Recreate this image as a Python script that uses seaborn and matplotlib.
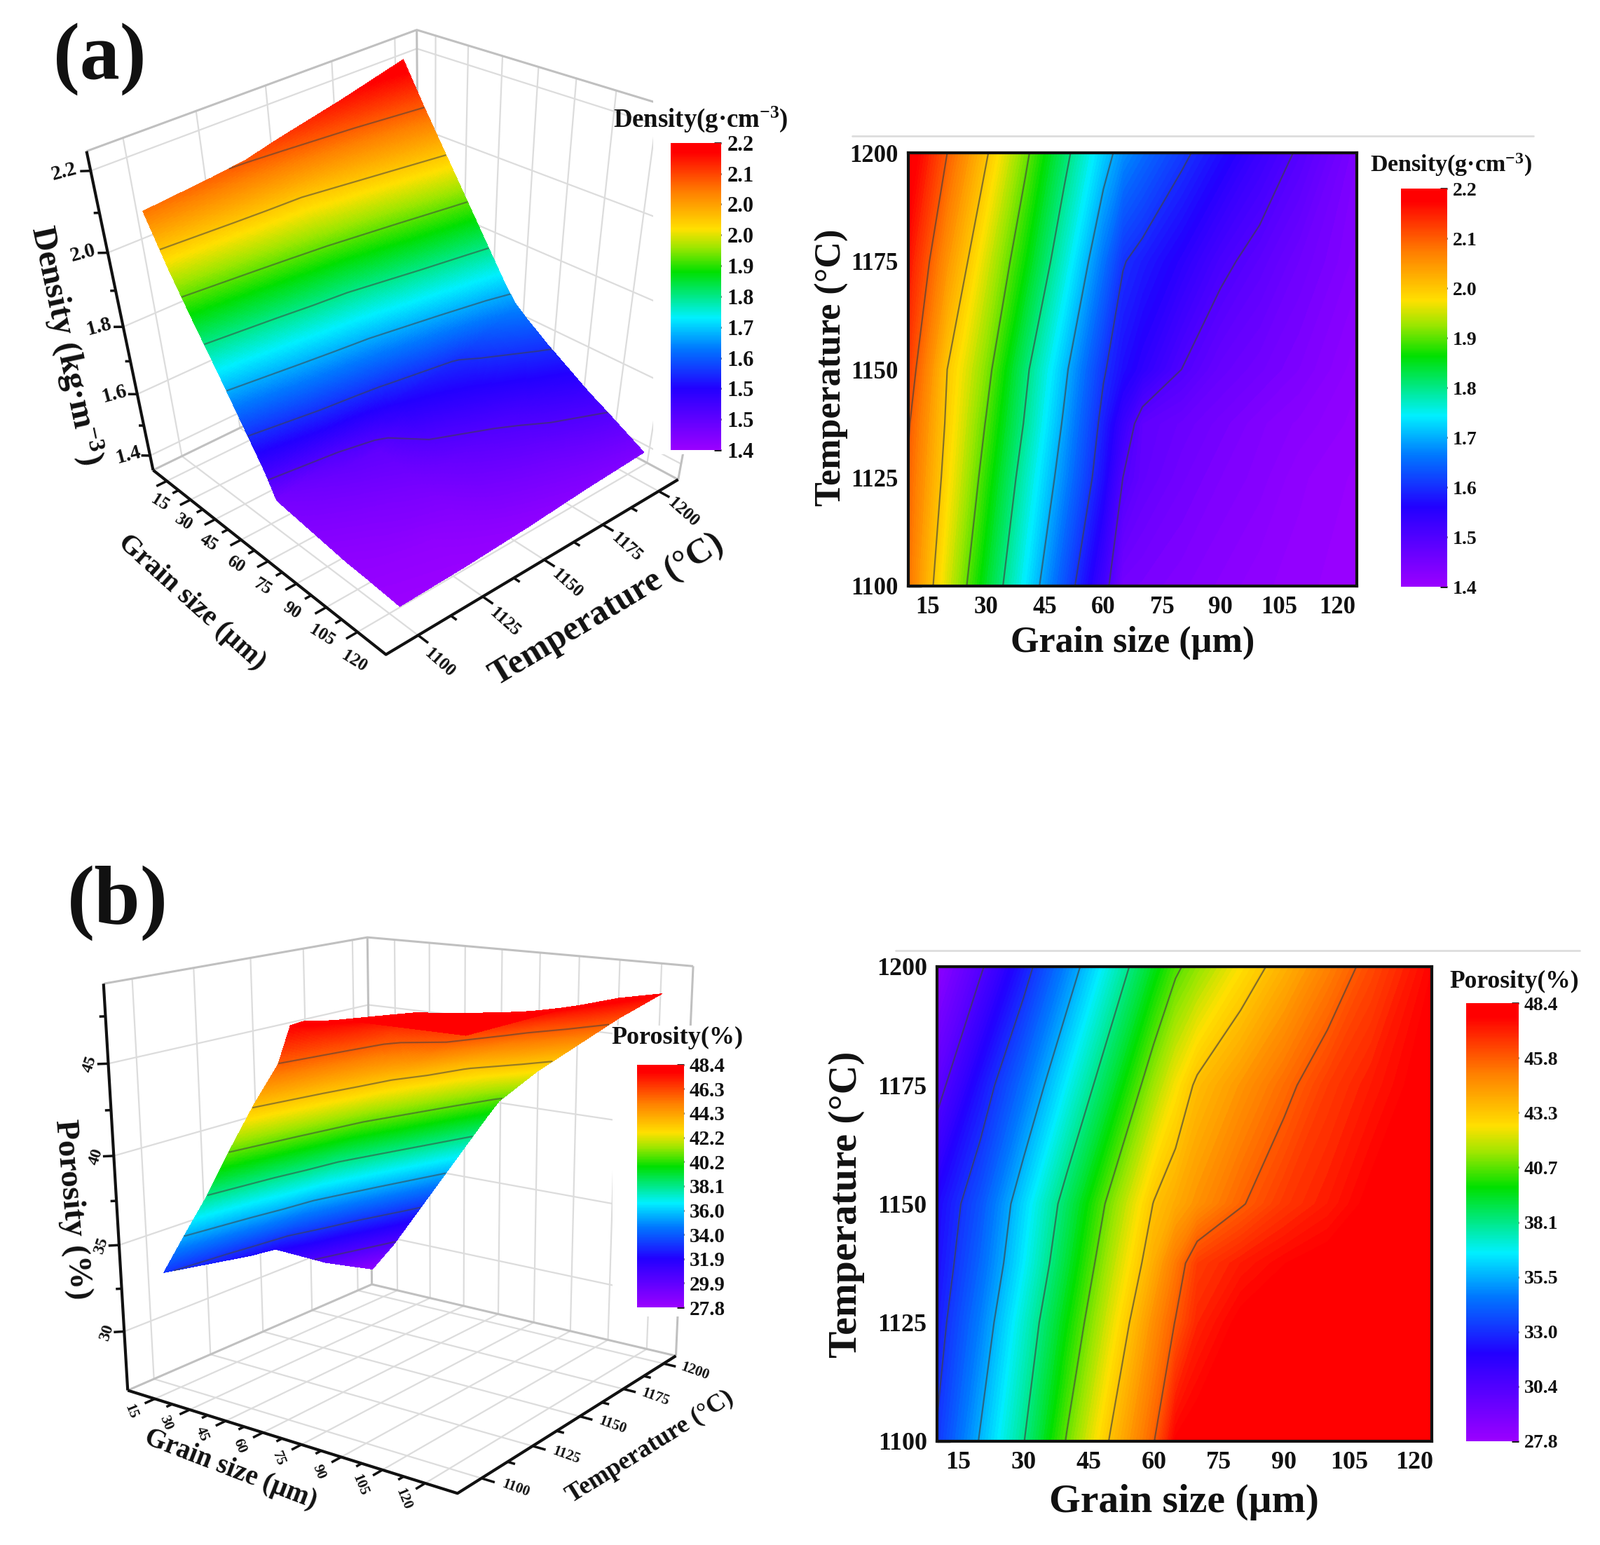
import numpy as np
import matplotlib
matplotlib.use("Agg")
import matplotlib.pyplot as plt
import seaborn as sns
from matplotlib.colors import LinearSegmentedColormap
from matplotlib.patches import Rectangle
from mpl_toolkits.mplot3d import Axes3D  # noqa: F401
from mpl_toolkits.mplot3d.art3d import Line3DCollection

# ------------------------------------------------------------------ data
grain = [10, 20, 30, 40, 50, 60, 65, 70, 80, 90, 100, 110, 125]
temperature = [1100, 1125, 1137.5, 1150, 1175, 1200]

density_1100 = [2.08, 1.955, 1.845, 1.74, 1.63, 1.52, 1.45, 1.445, 1.435, 1.425, 1.415, 1.41, 1.40]
density_1125 = [2.095, 1.983, 1.88, 1.775, 1.675, 1.57, 1.50, 1.475, 1.455, 1.44, 1.43, 1.415, 1.405]
density_1137 = [2.105, 1.993, 1.897, 1.795, 1.693, 1.586, 1.53, 1.48, 1.465, 1.45, 1.435, 1.425, 1.41]
density_1150 = [2.125, 2.00, 1.915, 1.81, 1.71, 1.605, 1.57, 1.545, 1.50, 1.47, 1.455, 1.44, 1.415]
density_1175 = [2.16, 2.05, 1.955, 1.865, 1.765, 1.66, 1.603, 1.585, 1.55, 1.51, 1.485, 1.46, 1.43]
density_1200 = [2.20, 2.10, 2.005, 1.91, 1.815, 1.72, 1.68, 1.655, 1.61, 1.57, 1.53, 1.495, 1.44]

porosity_1100 = [33.1, 35.6, 38.05, 40.8, 43.4, 45.75, 47.8, 48.1, 48.3, 48.4, 48.4, 48.4, 48.4]
porosity_1125 = [32.5, 34.7, 37.2, 39.7, 42.2, 44.7, 45.85, 47.0, 47.9, 48.2, 48.3, 48.4, 48.4]
porosity_1137 = [32.2, 34.2, 36.6, 39.1, 41.6, 43.95, 45.2, 46.5, 47.2, 47.7, 48.0, 48.2, 48.4]
porosity_1150 = [32.0, 33.8, 36.2, 38.6, 41.0, 43.35, 44.0, 44.6, 45.7, 46.6, 47.2, 47.9, 48.4]
porosity_1175 = [29.9, 32.3, 34.4, 36.7, 39.0, 41.4, 42.5, 43.5, 44.5, 45.5, 46.5, 47.2, 48.2]
porosity_1200 = [28.2, 30.2, 32.5, 34.8, 37.1, 39.4, 40.5, 41.2, 42.6, 43.8, 45.0, 46.2, 47.8]

grain_ticks = [15, 30, 45, 60, 75, 90, 105, 120]
temp_ticks = [1100, 1125, 1150, 1175, 1200]
density_levels = [1.5, 1.6, 1.7, 1.8, 1.9, 2.0, 2.1]
porosity_levels = [30.4, 33.0, 35.5, 38.1, 40.7, 43.3, 45.8]
density_z_ticks = [1.4, 1.6, 1.8, 2.0, 2.2]
porosity_z_ticks = [30, 35, 40, 45]
cb_density_left = ["2.2", "2.1", "2.0", "2.0", "1.9", "1.8", "1.7", "1.6", "1.5", "1.5", "1.4"]
cb_density_right = ["2.2", "2.1", "2.0", "1.9", "1.8", "1.7", "1.6", "1.5", "1.4"]
cb_porosity_left = ["48.4", "46.3", "44.3", "42.2", "40.2", "38.1", "36.0", "34.0", "31.9", "29.9", "27.8"]
cb_porosity_right = ["48.4", "45.8", "43.3", "40.7", "38.1", "35.5", "33.0", "30.4", "27.8"]

# ------------------------------------------------------------------ style
W, H = 2283, 2204
S = W / 1568.0
sns.set_theme(style="white")
plt.rcParams["font.family"] = ["Liberation Serif", "DejaVu Serif"]
plt.rcParams["font.weight"] = "bold"
plt.rcParams["mathtext.fontset"] = "custom"
plt.rcParams["mathtext.rm"] = "Liberation Serif:bold"
plt.rcParams["mathtext.default"] = "rm"
INK = "#111111"

cmap = LinearSegmentedColormap.from_list("origin_rainbow", [
    (0.00, "#9a00ff"), (0.20, "#2200ff"), (0.33, "#0078ff"), (0.43, "#00f0ff"),
    (0.58, "#00e000"), (0.66, "#9ee600"), (0.72, "#ffe000"), (0.84, "#ff8000"),
    (0.97, "#ff0000"), (1.00, "#ff0000")])

X = np.array(grain, float)
Y = np.array(temperature, float)
Zd = np.array([density_1100, density_1125, density_1137, density_1150, density_1175, density_1200])
Zp = np.array([porosity_1100, porosity_1125, porosity_1137, porosity_1150, porosity_1175, porosity_1200])

fig = plt.figure(figsize=(W / 100, H / 100), dpi=100, facecolor="white")


def rect(x0, y0, x1, y1):
    """Axes rectangle from positions on the 1568-wide layout."""
    return [x0 * S / W, 1 - y1 * S / H, (x1 - x0) * S / W, (y1 - y0) * S / H]


def label(x, y, s, size, rot=0):
    fig.text(x * S / W, 1 - y * S / H, s, fontsize=size, rotation=rot, ha="center",
             va="center", color=INK, fontweight="bold", rotation_mode="anchor")


def colorbar(box, vmin, vmax, labels, size, title, tx, ty, tsize):
    cax = fig.add_axes(rect(*box), zorder=5)
    grad = np.linspace(vmax, vmin, 256)[:, None]
    sns.heatmap(grad, cmap=cmap, vmin=vmin, vmax=vmax, cbar=False, ax=cax,
                xticklabels=False, yticklabels=False)
    pos = np.linspace(0, 256, len(labels))
    cax.yaxis.tick_right()
    cax.set_yticks(pos)
    cax.set_yticklabels(labels, fontsize=size, fontweight="bold", color=INK, rotation=0)
    cax.tick_params(axis="y", direction="in", length=7, width=2, color=INK, pad=6, right=True, left=False)
    label(tx, ty, title, tsize)


def contour_panel(box, Z, levels, vmin, vmax, xlim, tick_size, lab_size, xl, yl):
    ax = fig.add_axes(rect(*box))
    ax.contourf(X, Y, Z, levels=np.linspace(vmin, vmax, 121), cmap=cmap, vmin=vmin, vmax=vmax, extend="both")
    ax.contour(X, Y, Z, levels=levels, colors="#404040", linewidths=1.6, alpha=0.65)
    ax.set_xticks(grain_ticks)
    ax.set_xticks([t + 7.5 for t in grain_ticks[:-1]], minor=True)
    ax.set_yticks(temp_ticks)
    ax.set_yticks([t + 12.5 for t in temp_ticks[:-1]], minor=True)
    ax.set_xlim(*xlim)
    ax.set_ylim(1100, 1200)
    ax.tick_params(which="major", direction="in", length=14, width=2.5, color=INK,
                   labelsize=tick_size, labelcolor=INK, pad=10, bottom=True, left=True)
    ax.tick_params(which="minor", direction="in", length=8, width=2, color=INK, bottom=True, left=True)
    for s in ax.spines.values():
        s.set_visible(True)
        s.set_linewidth(3)
        s.set_color(INK)
    for t in ax.get_xticklabels() + ax.get_yticklabels():
        t.set_fontweight("bold")
    label(xl[0], xl[1], "Grain size (µm)", lab_size)
    label(yl[0], yl[1], "Temperature (°C)", lab_size, 90)


def panel_3d(corners, xlim, tlim, zlim, Z, levels, vmin, vmax, zticks, zminor, cfg):
    ax = fig.add_axes([0, 0, 1, 1], projection="3d", computed_zorder=False)
    ax.patch.set_alpha(0)
    ax.set_axis_off()
    ax.set_xlim(*xlim)
    ax.set_ylim(*tlim)
    ax.set_zlim(*zlim)
    ax.apply_aspect()

    # camera fitted to the eight corners of the box as seen in the reference
    A = []
    for (u, v, w), (px, py) in corners.items():
        px, py = px * S, py * S
        h = [u, v, w, 1.0]
        A.append(h + [0, 0, 0, 0] + [-px * c for c in h])
        A.append([0, 0, 0, 0] + h + [-py * c for c in h])
    P = np.linalg.svd(np.array(A))[2][-1].reshape(3, 4)
    if P[2] @ np.array([.5, .5, .5, 1]) < 0:
        P = -P
    P = P / (P[2] @ np.array([.5, .5, .5, 1]))
    inv = ax.transData.inverted()
    (v0x, v0y), (v1x, v1y) = inv.transform([(0, H), (W, 0)])  # px (0,0) and (W,H)
    ax_, bx = (v1x - v0x) / W, v0x
    ay_, by = (v1y - v0y) / H, v0y
    N = np.array([[1 / (xlim[1] - xlim[0]), 0, 0, -xlim[0] / (xlim[1] - xlim[0])],
                  [0, 1 / (tlim[1] - tlim[0]), 0, -tlim[0] / (tlim[1] - tlim[0])],
                  [0, 0, 1 / (zlim[1] - zlim[0]), -zlim[0] / (zlim[1] - zlim[0])],
                  [0, 0, 0, 1.0]])
    M = np.vstack([ax_ * P[0] + bx * P[2], ay_ * P[1] + by * P[2],
                   P[2] - np.array([0, 0, 0, 0.5]), P[2]]) @ N
    ax.get_proj = lambda: M

    def segs(items, color, lw, zorder):
        ax.add_collection3d(Line3DCollection([np.array(s, float) for s in items], colors=color,
                                             linewidths=lw, zorder=zorder), autolim=False)

    def text3d(x, y, z, s, size, rot):
        # matplotlib's Text3D ignores rotation, so the label goes through the same camera
        q = P @ N @ np.array([x, y, z, 1.0])
        fig.text(q[0] / q[2] / W, 1 - q[1] / q[2] / H, s, fontsize=size, rotation=rot, ha="center",
                 va="center", color=INK, fontweight="bold", rotation_mode="anchor")

    x0, x1 = xlim
    t0, t1 = tlim
    z0, z1 = zlim
    grid = []
    for t in temp_ticks:
        grid += [[(x0, t, z0), (x0, t, z1)], [(x0, t, z0), (x1, t, z0)]]
    for g in grain_ticks:
        grid += [[(g, t1, z0), (g, t1, z1)], [(g, t0, z0), (g, t1, z0)]]
    for z in zticks:
        grid += [[(x0, t0, z), (x0, t1, z)], [(x0, t1, z), (x1, t1, z)]]
    segs(grid, "#dcdcdc", 1.6, 1)
    segs([[(x0, t0, z1), (x0, t1, z1), (x1, t1, z1)],
          [(x0, t1, z0), (x0, t1, z1)],
          [(x1, t1, z0), (x1, t1, z1)],
          [(x0, t0, z0), (x0, t1, z0), (x1, t1, z0)]], "#c0c0c0", 2.2, 1)

    # surface: the table is refined for a smooth colour ramp
    xf = np.linspace(X[0], X[-1], 300)
    tf = np.linspace(Y[0], Y[-1], 150)
    Zr = np.array([np.interp(xf, X, row) for row in Z])
    Zf = np.array([np.interp(tf, Y, col) for col in Zr.T]).T
    XF, TF = np.meshgrid(xf, tf)
    ax.plot_surface(XF, TF, Zf, cmap=cmap, vmin=vmin, vmax=vmax, rstride=1, cstride=1,
                    linewidth=0, antialiased=False, shade=False, zorder=2)
    ax.contour(X, Y, Z, levels=levels, colors="#404040", linewidths=1.6, alpha=0.55, zorder=3)

    # axes
    segs([[(x0, t0, z0), (x0, t0, z1)], [(x0, t0, z0), (x1, t0, z0), (x1, t1, z0)]], INK, 3, 4)
    dT = t1 - t0
    dX = x1 - x0
    ticks = []
    for g in grain_ticks:
        ticks.append([(g, t0, z0), (g, t0 - .035 * dT, z0)])
        if g + 7.5 < x1 and g < 120:
            ticks.append([(g + 7.5, t0, z0), (g + 7.5, t0 - .02 * dT, z0)])
        text3d(g + cfg["gt_dx"], t0 - cfg["gt_off"] * dT, z0, str(g), cfg["gt_size"], cfg["gt_rot"])
    for t in temp_ticks:
        ticks.append([(x1, t, z0), (x1 + .035 * dX, t, z0)])
        if t + 12.5 < t1 and t < 1200:
            ticks.append([(x1, t + 12.5, z0), (x1 + .02 * dX, t + 12.5, z0)])
        text3d(x1 + cfg["tt_off"] * dX, t + cfg["tt_dt"], z0, str(t), cfg["tt_size"], cfg["tt_rot"])
    for z in zticks:
        ticks.append([(x0, t0, z), (x0 - .018 * dX, t0 - .018 * dT, z)])
        text3d(x0 - cfg["zt_off"] * dX, t0 - cfg["zt_off"] * dT, z, str(z), cfg["zt_size"], cfg["zt_rot"])
    for z in zminor:
        ticks.append([(x0, t0, z), (x0 - .01 * dX, t0 - .01 * dT, z)])
    segs(ticks, INK, 2.5, 4)
    return ax


# ------------------------------------------------------------------ panel (a)
corners_a = {(0, 0, 0): (155, 472), (1, 0, 0): (375, 640), (1, 1, 0): (670, 462), (0, 1, 0): (404, 330),
             (0, 0, 1): (92, 140), (0, 1, 1): (405, 28), (1, 1, 1): (736, 144), (1, 0, 1): (352, 288)}
panel_3d(corners_a, (6, 133), (1088, 1209), (1.35, 2.245), Zd, density_levels, 1.4, 2.2,
         density_z_ticks, [1.5, 1.7, 1.9, 2.1],
         dict(gt_off=.07, gt_dx=9, gt_size=18, gt_rot=-32, tt_off=.10, tt_dt=-3, tt_size=18, tt_rot=-42,
              zt_off=.045, zt_size=21, zt_rot=15))
label(98, 58, "(a)", 82)
label(65, 338, "Density (kg·m$^{-3}$)", 35, -78)
label(188, 590, "Grain size (µm)", 29, -42)
label(595, 598, "Temperature (°C)", 36, 31)
fig.add_artist(Rectangle((640 * S / W, 1 - 445 * S / H), 145 * S / W, 350 * S / H, transform=fig.transFigure,
                         facecolor="white", edgecolor="none", zorder=2))
colorbar((657, 140, 707, 441), 1.4, 2.2, cb_density_left, 22, "Density(g·cm$^{-3}$)", 687, 117, 26.5)

# right panel (a)
contour_panel((890, 150, 1330, 574), Zd, density_levels, 1.4, 2.2, (10, 125), 25, 37.5, (1110, 630), (815, 360))
colorbar((1373, 185, 1418, 575), 1.4, 2.2, cb_density_right, 20, "Density(g·cm$^{-3}$)", 1422, 162, 24.5)
fig.add_artist(plt.Line2D([835 * S / W, 1503 * S / W], [1 - 133 * S / H] * 2, color="#dddddd", lw=2))

# ------------------------------------------------------------------ panel (b)
corners_b = {(0, 0, 0): (125, 1358), (1, 0, 0): (447, 1467), (1, 1, 0): (663, 1325), (0, 1, 0): (365, 1262),
             (0, 0, 1): (101, 970), (0, 1, 1): (360, 913), (1, 1, 1): (678, 952), (1, 0, 1): (452, 1000)}
panel_3d(corners_b, (3, 131), (1089, 1208), (26.5, 49.2), Zp, porosity_levels, 27.8, 48.4,
         porosity_z_ticks, [32.5, 37.5, 42.5, 47.5],
         dict(gt_off=.09, gt_dx=1, gt_size=15, gt_rot=-68, tt_off=.09, tt_dt=0, tt_size=15, tt_rot=-20,
              zt_off=.03, zt_size=17, zt_rot=72))
label(115, 885, "(b)", 85)
label(70, 1185, "Porosity (%)", 34, -85)
label(226, 1440, "Grain size (µm)", 28, -21)
label(637, 1418, "Temperature (°C)", 26, 32)
fig.add_artist(Rectangle((600 * S / W, 1 - 1290 * S / H), 135 * S / W, 285 * S / H, transform=fig.transFigure,
                         facecolor="white", edgecolor="none", zorder=2))
colorbar((624, 1043, 670, 1281), 27.8, 48.4, cb_porosity_left, 21, "Porosity(%)", 664, 1017, 26)

# right panel (b)
contour_panel((918, 947, 1403, 1412), Zp, porosity_levels, 27.8, 48.4, (10, 124), 26, 41.5, (1160, 1472), (830, 1180))
colorbar((1437, 983, 1488, 1412), 27.8, 48.4, cb_porosity_right, 20, "Porosity(%)", 1484, 962, 25.5)
fig.add_artist(plt.Line2D([878 * S / W, 1548 * S / W], [1 - 931 * S / H] * 2, color="#dddddd", lw=2))

fig.savefig("out.png", dpi=100)
